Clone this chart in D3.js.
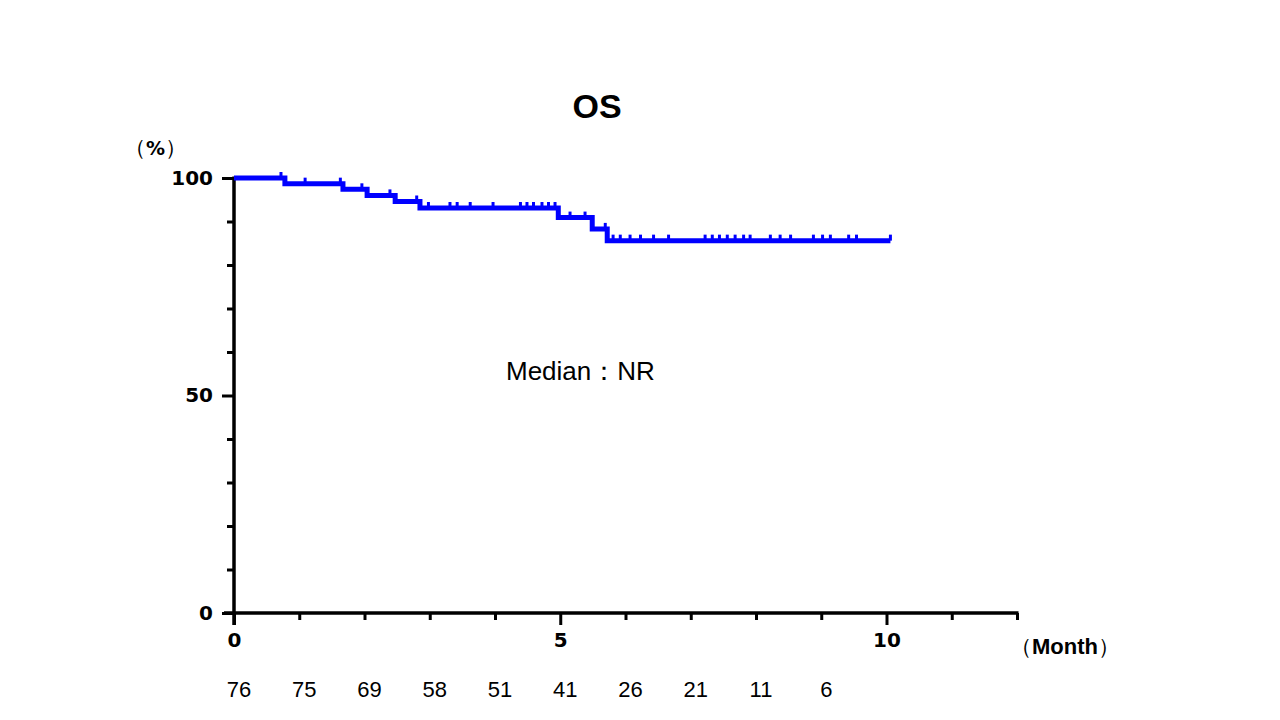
<!DOCTYPE html>
<html>
<head>
<meta charset="utf-8">
<script src="https://cdn.jsdelivr.net/npm/d3@7"></script>
<style>
  html, body { margin: 0; padding: 0; background: #ffffff; }
  svg { display: block; }
</style>
</head>
<body>
<svg id="chart" width="1280" height="720" font-family="Liberation Sans, Arial, sans-serif"></svg>
<script>
// ---- data ----
const eventTimes = [0, 0.78, 1.67, 2.04, 2.47, 2.85, 4.97, 5.49, 5.72, 10.06];
const survival   = [100, 98.7, 97.4, 96.0, 94.6, 93.1, 90.9, 88.3, 85.6, 85.6];
const censorTimes = [0.72, 1.09, 1.63, 1.96, 2.39, 2.8,
  2.98, 3.31, 3.42, 3.62, 3.97, 4.39, 4.49, 4.59, 4.72, 4.82, 4.92,
  5.15, 5.38, 5.69,
  5.81, 5.92, 6.07, 6.23, 6.43, 6.66, 7.22, 7.33, 7.44, 7.56, 7.68, 7.81, 7.91,
  8.22, 8.37, 8.53, 8.88, 9.02, 9.14, 9.42, 9.54, 10.06];
const riskMonths = [0, 1, 2, 3, 4, 5, 6, 7, 8, 9];
const riskNumbers = [76, 75, 69, 58, 51, 41, 26, 21, 11, 6];
const xTickLabels = [0, 5, 10];
const yTickLabels = [0, 50, 100];

// ---- layout ----
const svg = d3.select("#chart");
const x = d3.scaleLinear().domain([0, 12]).range([234, 1017]);
const y = d3.scaleLinear().domain([0, 100]).range([613, 178]);
const blue = "#0000ff";
const boldFont = "DejaVu Sans, Liberation Sans, Arial, sans-serif";

// title
svg.append("text").attr("x", 597).attr("y", 118).attr("text-anchor", "middle")
  .attr("font-size", 34).attr("font-weight", "bold").text("OS");

// y unit
const yu = svg.append("text").attr("x", 124).attr("y", 155).attr("font-size", 22);
yu.append("tspan").text("（");
yu.append("tspan").attr("font-weight", "bold").attr("font-family", boldFont).attr("font-size", 19).text("%");
yu.append("tspan").text("）");

// y axis
const yAxis = d3.axisLeft(y).tickValues(d3.range(0, 101, 10))
  .tickSize(7).tickFormat(d => yTickLabels.includes(d) ? d : "");
const gy = svg.append("g").attr("transform", "translate(234,0)").call(yAxis);
gy.select(".domain").remove();
gy.append("line").attr("x1", 0).attr("x2", 0).attr("y1", y(100) - 1.5).attr("y2", y(0) + 12)
  .attr("stroke", "#000").attr("stroke-width", 3.5);
gy.selectAll(".tick line").attr("stroke", "#000").attr("stroke-width", 3)
  .attr("x2", d => yTickLabels.includes(d) ? -12 : -7);
gy.attr("font-family", boldFont).attr("font-size", 20);
gy.selectAll(".tick text").attr("x", -21).attr("font-weight", "bold").attr("fill", "#000");

// x axis
const xAxis = d3.axisBottom(x).tickValues(d3.range(0, 13, 1))
  .tickSize(7).tickFormat(d => xTickLabels.includes(d) ? d : "");
const gx = svg.append("g").attr("transform", "translate(0,613)").call(xAxis);
gx.select(".domain").remove();
gx.append("line").attr("x1", 224).attr("x2", x(12) + 1.5).attr("y1", 0).attr("y2", 0)
  .attr("stroke", "#000").attr("stroke-width", 3.5);
gx.selectAll(".tick line").attr("stroke", "#000").attr("stroke-width", 3)
  .attr("y2", d => xTickLabels.includes(d) ? 12 : 7);
gx.attr("font-family", boldFont).attr("font-size", 20);
gx.selectAll(".tick text").attr("y", 20).attr("font-weight", "bold").attr("fill", "#000");

// x unit
const xu = svg.append("text").attr("x", 1010).attr("y", 654).attr("font-size", 22);
xu.append("tspan").text("（");
xu.append("tspan").attr("font-weight", "bold").text("Month");
xu.append("tspan").text("）");

// KM curve
const pts = eventTimes.map((t, i) => [t, survival[i]]);
const line = d3.line().x(d => x(d[0])).y(d => y(d[1])).curve(d3.curveStepAfter);
svg.append("path").datum(pts).attr("d", line).attr("fill", "none")
  .attr("stroke", blue).attr("stroke-width", 5).attr("stroke-linejoin", "miter");

function survAt(t) {
  let s = survival[0];
  for (let i = 0; i < eventTimes.length; i++) if (eventTimes[i] <= t) s = survival[i];
  return s;
}
svg.append("g").selectAll("line").data(censorTimes).join("line")
  .attr("x1", d => x(d)).attr("x2", d => x(d))
  .attr("y1", d => y(survAt(d)) - 6).attr("y2", d => y(survAt(d)))
  .attr("stroke", blue).attr("stroke-width", 3);

// median
svg.append("text").attr("x", 506).attr("y", 380).attr("font-size", 26).text("Median：NR");

// numbers at risk
svg.append("g").selectAll("text").data(riskMonths).join("text")
  .attr("x", d => x(d) + 5).attr("y", 697).attr("text-anchor", "middle")
  .attr("font-size", 22).text((d, i) => riskNumbers[i]);
</script>
</body>
</html>
